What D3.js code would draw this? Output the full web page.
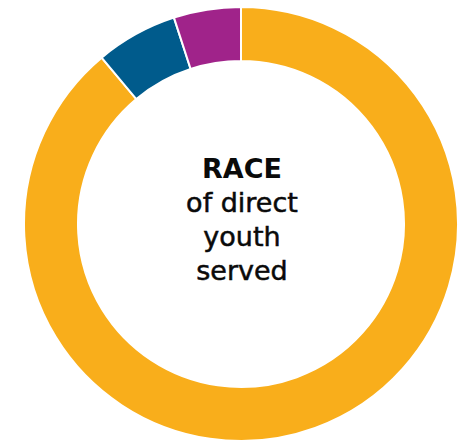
<!DOCTYPE html>
<html>
<head>
<meta charset="utf-8">
<script src="https://cdn.jsdelivr.net/npm/d3@7"></script>
<style>
  html, body { margin: 0; padding: 0; background: #fff; }
  svg { display: block; }
  .center-label { font-family: "DejaVu Sans", sans-serif; fill: #0a0a0a; }
</style>
</head>
<body>
<div id="chart"></div>
<script>
// Data
var categories = ["Group A", "Group B", "Group C"];
var shares = [88.9, 6.1, 5.0];
var colors = ["#F9AE1B", "#005B8C", "#A0238A"];
var titleLines = ["RACE", "of direct", "youth", "served"];

var width = 461;
var height = 444;
var cx = 241;
var cy = 224;
var outerRadius = 217;
var innerRadius = 163;

var data = categories.map(function (c, i) {
  return { category: c, value: shares[i], color: colors[i] };
});

var svg = d3
  .select("#chart")
  .append("svg")
  .attr("width", width)
  .attr("height", height);

var chartElement = svg.append("g").attr("transform", "translate(" + cx + "," + cy + ")");

var pie = d3.pie().sort(null).value((d) => d.value);
var arc = d3.arc().innerRadius(innerRadius).outerRadius(outerRadius);

chartElement
  .selectAll("path")
  .data(pie(data))
  .enter()
  .append("path")
  .attr("d", arc)
  .style("fill", (d) => d.data.color)
  .style("stroke", "#fff")
  .style("stroke-width", 2);

// Center label
var lineY = d3.scaleLinear().domain([0, 1]).range([-46, -12]);

chartElement
  .selectAll("text")
  .data(titleLines)
  .enter()
  .append("text")
  .attr("class", "center-label")
  .attr("x", 1)
  .attr("y", (d, i) => lineY(i))
  .attr("text-anchor", "middle")
  .style("font-size", "27px")
  .style("font-weight", (d, i) => (i == 0 ? 700 : 400))
  // slight stroke so the regular lines read as medium weight
  .style("stroke", (d, i) => (i == 0 ? "none" : "#0a0a0a"))
  .style("stroke-width", 0.5)
  .text((d) => d);
</script>
</body>
</html>
